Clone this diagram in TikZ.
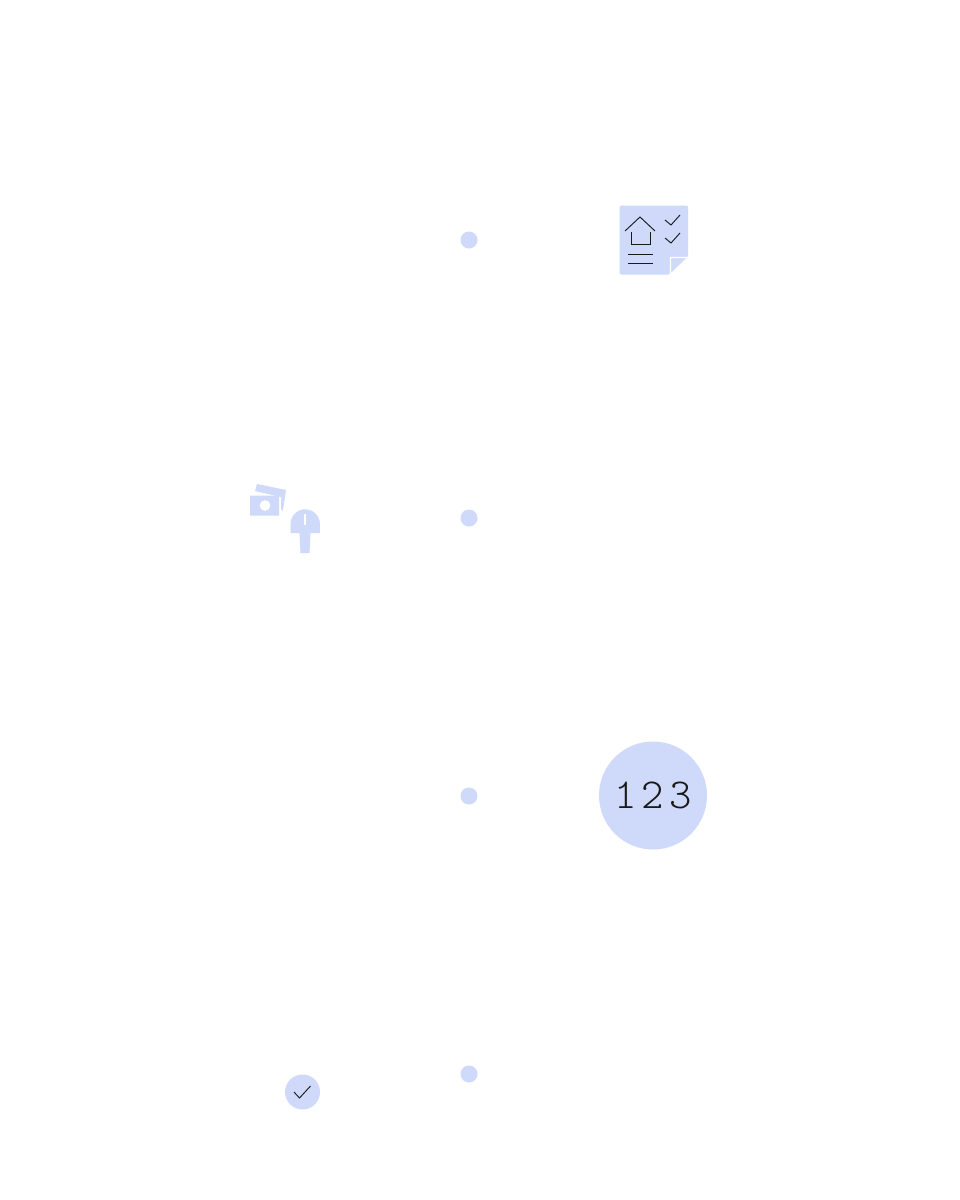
\documentclass[tikz,border=0pt]{standalone}
\usepackage{fontspec}
\newfontfamily\numfont[LetterSpace=12]{Latin Modern Mono Light}
\definecolor{pale}{HTML}{CFD9FA}
\definecolor{ink}{HTML}{1A1A1A}
\tikzset{
  dotmark/.style={circle,fill=pale,draw=none,minimum size=17*0.75pt,inner sep=0pt},
  paleshape/.style={fill=pale,draw=none},
  hair/.style={draw=ink,line width=0.7pt},
  whitehair/.style={draw=white,line width=1.1pt}
}
\begin{document}
\begin{tikzpicture}[x=0.75pt,y=-0.75pt]
\useasboundingbox (0,0) rectangle (960,1200);
\fill[white] (0,0) rectangle (960,1200);
% timeline dots
\node[dotmark] (d1) at (469,240) {};
\node[dotmark] (d2) at (469,518) {};
\node[dotmark] (d3) at (469,796) {};
\node[dotmark] (d4) at (469,1074) {};
% checklist note
\fill[paleshape,rounded corners=1.5pt] (619.5,205.7) -- (688.2,205.7) -- (688.2,256.5) -- (670,274.5) -- (619.5,274.5) -- cycle;
\draw[whitehair,fill=pale] (670.5,274.5) -- (670.5,257.5) -- (688,257.5) -- cycle;
\draw[hair] (625,231) -- (640,217) -- (655,231);
\draw[hair] (631,232) -- (631,244) -- (650,244) -- (650,232);
\draw[hair] (628,254) -- (653,254);
\draw[hair] (628,263) -- (653,263);
\draw[hair] (665,220) -- (671,225) -- (680,215);
\draw[hair] (665,238) -- (671,243) -- (680,233);
% money and pin
\fill[paleshape] (257,484) -- (286,490) -- (283,510) -- (281,510) -- (281,497) -- (255,491) -- cycle;
\fill[paleshape,even odd rule] (250,495.5) rectangle (279,515.5) (265,505.5) circle (5.5);
\fill[paleshape] (290.5,533) -- (290.5,524) arc[start angle=180,end angle=360,radius=14.7] -- (320,533) -- (310.5,533) -- (309.5,553) -- (300.5,553) -- (299.5,533) -- cycle;
\draw[white,line width=0.9pt] (305,514) -- (305,525);
% 123 circle
\node[circle,fill=pale,minimum size=108*0.75pt,inner sep=0pt] (big) at (653,795.5) {};
\node[text=ink,inner sep=0pt] (num) at (653,795.5) {\fontsize{32}{32}\selectfont\numfont 123};
% check circle
\node[circle,fill=pale,minimum size=35*0.75pt,inner sep=0pt] (chk) at (302.5,1092) {};
\draw[hair] (294,1092) -- (299.5,1098) -- (310.5,1086);
\end{tikzpicture}
\end{document}
